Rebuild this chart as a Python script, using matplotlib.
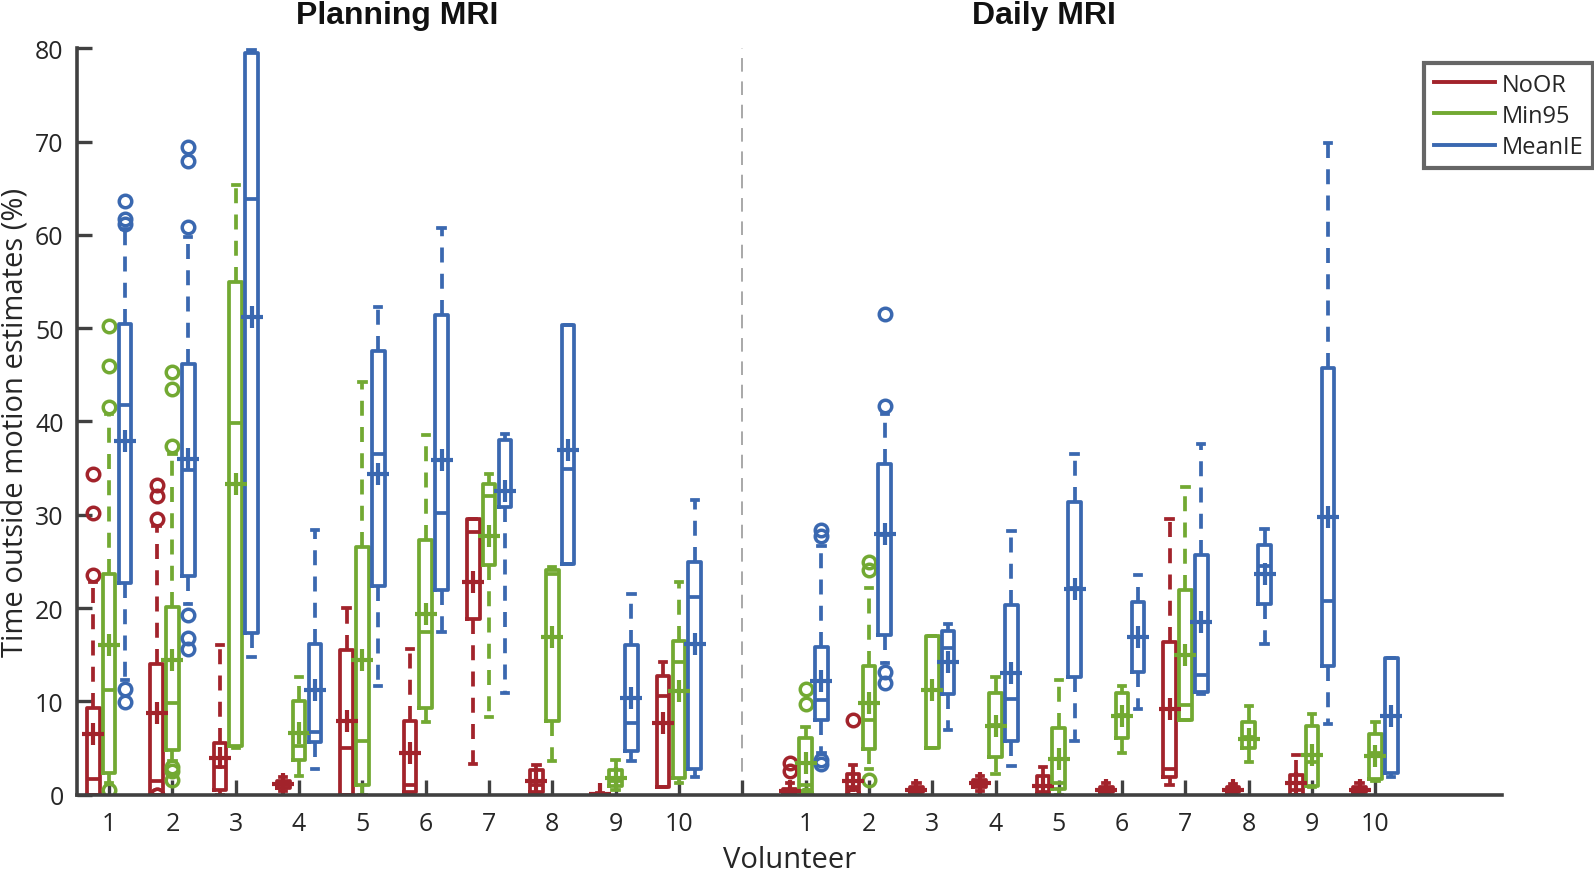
import numpy as np
import matplotlib
matplotlib.use('Agg')
import matplotlib.pyplot as plt
from matplotlib.lines import Line2D
import matplotlib.transforms as mtransforms

plt.rcParams['font.family'] = ['Open Sans', 'DejaVu Sans']

methods = ['NoOR', 'Min95', 'MeanIE']
colors = ['#A2232B', '#72A932', '#3A68B0']
volunteers = [str(i) for i in range(1, 11)]

# planning MRI: rows = NoOR, Min95, MeanIE ; columns = volunteer 1..10
plan_q1 = [[0, 0, 0.5, 0.7, 0, 0.3, 18.8, 0.3, 0, 0.8],
           [2.3, 4.8, 5.2, 3.7, 1.0, 9.3, 24.6, 7.9, 0.9, 1.8],
           [22.7, 23.4, 17.3, 5.6, 22.4, 21.9, 30.8, 24.7, 4.7, 2.7]]
plan_med = [[1.7, 1.5, 3.0, 1.0, 5.0, 1.0, 28.2, 1.0, 0, 10.6],
            [11.2, 9.8, 39.8, 5.2, 5.8, 17.4, 32.0, 23.6, 1.5, 14.2],
            [41.8, 34.8, 63.9, 6.7, 36.5, 30.2, 32.6, 34.9, 7.7, 21.2]]
plan_q3 = [[9.3, 14.0, 5.5, 1.5, 15.5, 7.9, 29.5, 2.6, 0.1, 12.7],
           [23.6, 20.1, 55.0, 10.0, 26.6, 27.3, 33.3, 24.1, 2.6, 16.5],
           [50.5, 46.2, 79.5, 16.2, 47.6, 51.4, 38.0, 50.3, 16.0, 24.9]]
plan_lo = [[0, 0, 0, 0.4, 0, 0, 3.3, 0, 0, 0.8],
           [1.3, 3.6, 5.0, 2.0, 0, 7.8, 8.3, 3.6, 0.5, 1.3],
           [12.3, 20.4, 14.8, 2.7, 11.7, 17.4, 10.9, 24.7, 3.6, 1.9]]
plan_hi = [[22.8, 28.8, 16.0, 1.9, 20.0, 15.6, 29.5, 3.2, 0.2, 14.2],
           [40.8, 36.5, 65.3, 12.6, 44.2, 38.6, 34.4, 24.4, 3.7, 22.8],
           [60.6, 59.8, 79.8, 28.4, 52.3, 60.7, 38.7, 50.3, 21.5, 31.6]]
plan_mean = [[6.5, 8.8, 3.9, 1.1, 7.9, 4.5, 22.8, 1.5, 0.1, 7.7],
             [16.0, 14.4, 33.3, 6.6, 14.4, 19.4, 27.7, 16.9, 1.8, 11.1],
             [37.9, 36.0, 51.2, 11.2, 34.4, 35.9, 32.5, 36.9, 10.4, 16.1]]
plan_out = [[[23.5, 30.2, 34.4], [0, 0, 29.6, 32.0, 33.2], [], [], [], [], [], [], [], []],
            [[0.5, 41.5, 46.0, 50.2], [1.6, 2.5, 3.0, 37.4, 43.5, 45.3], [], [], [], [], [], [], [], []],
            [[9.9, 11.3, 61.2, 61.7, 63.6], [15.6, 16.8, 19.3, 60.9, 67.9, 69.4], [], [], [], [], [], [], [], []]]

# daily MRI
daily_q1 = [[0, 0, 0.3, 0.8, 0.1, 0.3, 1.9, 0.3, 0, 0.3],
            [0.3, 4.9, 5.0, 4.0, 0.6, 6.1, 8.0, 5.0, 0.9, 1.7],
            [8.0, 17.1, 10.8, 5.8, 12.6, 13.2, 11.0, 20.4, 13.8, 2.3]]
daily_med = [[0.2, 0.8, 0.5, 1.1, 0.3, 0.5, 2.7, 0.5, 0.5, 0.5],
             [1.0, 8.0, 11.2, 7.5, 1.3, 8.5, 9.6, 6.2, 3.5, 4.5],
             [10.1, 27.8, 15.7, 10.3, 22.1, 16.9, 12.8, 24.5, 20.8, 8.4]]
daily_q3 = [[0.6, 2.2, 0.8, 1.6, 2.0, 0.8, 16.4, 0.8, 2.1, 0.8],
            [6.1, 13.8, 17.0, 10.9, 7.1, 10.9, 21.9, 7.8, 7.4, 6.5],
            [15.8, 35.4, 17.5, 20.3, 31.4, 20.6, 25.7, 26.8, 45.7, 14.6]]
daily_lo = [[0, 0, 0.1, 0.4, 0, 0.1, 1.0, 0.1, 0, 0.1],
            [0, 2.8, 5.0, 2.2, 0, 4.5, 8.0, 3.5, 0.8, 1.5],
            [4.5, 14.1, 6.9, 3.1, 5.8, 9.2, 10.8, 16.1, 7.6, 1.9]]
daily_hi = [[1.3, 3.2, 1.3, 2.0, 3.0, 1.2, 29.5, 1.1, 4.2, 1.3],
            [7.2, 22.2, 17.0, 12.6, 12.3, 11.7, 33.0, 9.5, 8.6, 7.8],
            [26.7, 40.8, 18.3, 28.3, 36.5, 23.5, 37.6, 28.5, 69.9, 14.6]]
daily_mean = [[0.4, 1.5, 0.5, 1.2, 0.9, 0.5, 9.2, 0.5, 1.2, 0.5],
              [3.4, 9.8, 11.2, 7.4, 3.8, 8.4, 15.0, 6.0, 4.2, 4.1],
              [12.2, 27.9, 14.2, 13.0, 22.0, 16.9, 18.5, 23.6, 29.8, 8.4]]
daily_out = [[[2.5, 3.4], [0, 0, 8.0], [], [], [], [], [], [], [], []],
             [[0, 0, 9.7, 11.3], [1.6, 24.1, 24.9], [], [], [], [], [], [], [], []],
             [[3.3, 3.7, 27.7, 28.4], [12.0, 13.1, 41.7, 51.5], [], [], [], [], [], [], [], []]]

fig = plt.figure(figsize=(15.94, 8.79), dpi=100)
ax = fig.add_axes([0.0486, 0.0948, 0.8937, 0.8491])

offsets = [-0.25, 0.0, 0.25]
lw = 2.7
for start, q1, med, q3, lo, hi, mn, out in [
        (0, plan_q1, plan_med, plan_q3, plan_lo, plan_hi, plan_mean, plan_out),
        (11, daily_q1, daily_med, daily_q3, daily_lo, daily_hi, daily_mean, daily_out)]:
    for m in range(3):
        c = colors[m]
        stats = []
        for v in range(10):
            stats.append(dict(q1=q1[m][v], med=med[m][v], q3=q3[m][v],
                              whislo=lo[m][v], whishi=hi[m][v],
                              mean=mn[m][v], fliers=out[m][v]))
        pos = [start + v + 1 + offsets[m] for v in range(10)]
        ax.bxp(stats, positions=pos, widths=0.2, capwidths=0.1,
               showmeans=True, manage_ticks=False,
               boxprops=dict(color=c, lw=lw),
               medianprops=dict(color=c, lw=lw),
               whiskerprops=dict(color=c, lw=lw, linestyle=(0, (4, 3))),
               capprops=dict(color=c, lw=lw),
               meanprops=dict(marker='+', markeredgecolor=c, markersize=16,
                              markeredgewidth=3),
               flierprops=dict(marker='o', markerfacecolor='none',
                               markeredgecolor=c, markersize=9,
                               markeredgewidth=2.5))

ax.axvline(11, ymin=0, ymax=1, color='#A8A8A8', lw=1.4, linestyle=(0, (7, 5)), zorder=0)

ax.set_xlim(0.5, 23)
ax.set_ylim(0, 80)
ax.set_yticks(np.arange(0, 81, 10))
ax.set_xticks(range(1, 22))
ax.set_xticklabels(volunteers + [''] + volunteers)
for s in ['top', 'right']:
    ax.spines[s].set_visible(False)
for s in ['left', 'bottom']:
    ax.spines[s].set_color('#404040')
    ax.spines[s].set_linewidth(2.6)
ax.tick_params(direction='in', length=11, width=2.4, color='#404040',
               labelsize=18, labelcolor='#262626')
ax.tick_params(axis='x', pad=12)
ax.tick_params(axis='y', pad=10)
ax.set_xlabel('Volunteer', fontsize=21, color='#262626', labelpad=6)
ax.set_ylabel('Time outside motion estimates (%)', fontsize=21, color='#262626', labelpad=4)

trans = mtransforms.blended_transform_factory(ax.transData, ax.transAxes)
ax.text(5.55, 1.034, 'Planning MRI', transform=trans, ha='center', va='baseline',
        fontsize=23, fontweight='bold', family='Liberation Sans', color='#111111')
ax.text(15.77, 1.034, 'Daily MRI', transform=trans, ha='center', va='baseline',
        fontsize=23, fontweight='bold', family='Liberation Sans', color='#111111')

handles = [Line2D([], [], color=c, lw=2.8) for c in colors]
leg = fig.legend(handles, methods, loc='upper right', bbox_to_anchor=(0.9994, 0.927),
                 fontsize=17, frameon=True, fancybox=False, borderaxespad=0,
                 handlelength=2.6, handletextpad=0.3, labelspacing=0.3,
                 borderpad=0.4)
leg.get_frame().set_edgecolor('#404040')
leg.get_frame().set_linewidth(3)
for t in leg.get_texts():
    t.set_color('#262626')

fig.savefig('out.png', dpi=100)
